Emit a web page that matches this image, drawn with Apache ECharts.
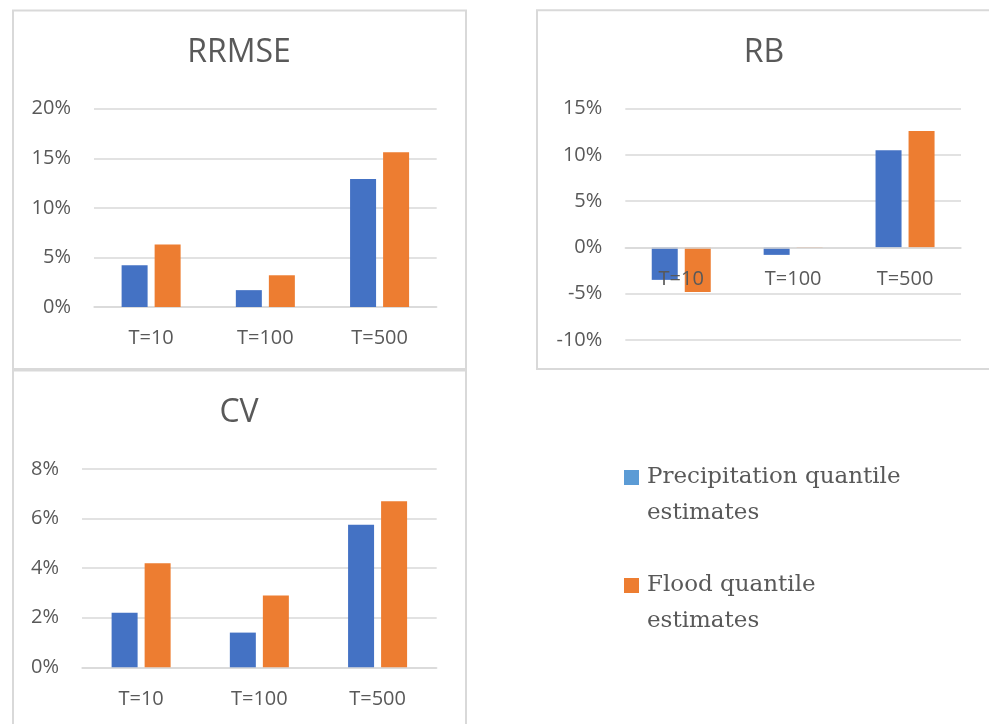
<!DOCTYPE html>
<html>
<head>
<meta charset="utf-8">
<script src="https://cdn.jsdelivr.net/npm/echarts@6/dist/echarts.min.js"></script>
<style>
html,body{margin:0;padding:0;background:#fff;}
#chart{width:989px;height:724px;}
</style>
</head>
<body>
<div id="chart"></div>
<script>
// ---- data (values in percent) ----
var categories = ['T=10', 'T=100', 'T=500'];
var seriesNames = ['Precipitation quantile estimates', 'Flood quantile estimates'];
var panelTitles = ['RRMSE', 'RB', 'CV'];

var rrmsePrecip = [4.2, 1.7, 12.9];
var rrmseFlood  = [6.3, 3.2, 15.6];

var rbPrecip = [-3.5, -0.8, 10.5];
var rbFlood  = [-4.8, -0.05, 12.6];

var cvPrecip = [2.2, 1.4, 5.75];
var cvFlood  = [4.2, 2.9, 6.7];

var rrmseTicks = {min: 0, max: 20, interval: 5};
var rbTicks = {min: -10, max: 15, interval: 5};
var cvTicks = {min: 0, max: 8, interval: 2};

// ---- style ----
var txt = '#595959';
var gridCol = '#d9d9d9';
var blue = '#4472C4', orange = '#ED7D31', legendBlue = '#5B9BD5';
var font = 'Open Sans';

var grids = [
  {left: 94, top: 108.7, width: 342.7, height: 198.3},
  {left: 625.3, top: 108.7, width: 335.7, height: 231.3},
  {left: 82, top: 469, width: 354.7, height: 198.3}
];
var tickSets = [rrmseTicks, rbTicks, cvTicks];

var chart = echarts.init(document.getElementById('chart'), null, {renderer: 'canvas'});

// place the category axis on the zero line of its value axis
function zeroOffset(idx) {
  var t = tickSets[idx];
  return -grids[idx].height * (0 - t.min) / (t.max - t.min);
}
function xAx(idx, z) {
  return {
    type: 'category', gridIndex: idx, data: categories, z: z || 0,
    offset: zeroOffset(idx),
    axisLine: {show: true, onZero: false, lineStyle: {color: gridCol, width: 1.5}},
    axisTick: {show: false},
    axisLabel: {color: txt, fontSize: 20, fontFamily: font, margin: 21.5}
  };
}
function yAx(idx) {
  var t = tickSets[idx];
  return {
    type: 'value', gridIndex: idx, min: t.min, max: t.max, interval: t.interval,
    axisLine: {show: false}, axisTick: {show: false},
    splitLine: {lineStyle: {color: gridCol, width: 1.5}},
    axisLabel: {color: txt, fontSize: 20, fontFamily: font, margin: 23, formatter: '{value}%'}
  };
}
function bar(name, idx, data, color) {
  return {
    name: name, type: 'bar', xAxisIndex: idx, yAxisIndex: idx, data: data,
    barWidth: 26, barGap: '27%',
    itemStyle: {color: color}
  };
}
function ttl(text, x, y) {
  return {
    text: text, left: x, top: y, textAlign: 'center', padding: 0,
    textStyle: {color: txt, fontSize: 32, fontWeight: 'normal', fontFamily: font}
  };
}

var option = {
  backgroundColor: '#fff',
  animation: false,
  title: [ttl(panelTitles[0], 239, 37), ttl(panelTitles[1], 764, 37), ttl(panelTitles[2], 239, 397)],
  grid: grids,
  xAxis: [xAx(0), xAx(1, 10), xAx(2)],
  yAxis: [yAx(0), yAx(1), yAx(2)],
  legend: {
    orient: 'vertical', left: 624, top: 423.5, padding: 0, itemGap: 0,
    itemWidth: 15, itemHeight: 15, icon: 'rect', selectedMode: false,
    data: [
      {name: seriesNames[0], itemStyle: {color: legendBlue}},
      {name: seriesNames[1], itemStyle: {color: orange}}
    ],
    formatter: function (n) { return '\n' + n.replace(/ estimates$/, '\nestimates'); },
    textStyle: {color: txt, fontSize: 23, fontFamily: 'DejaVu Serif', lineHeight: 36, padding: [0, 0, 0, 3]}
  },
  graphic: [
    {type: 'rect', shape: {x: 13, y: 10.5, width: 453, height: 358.5}, style: {fill: 'none', stroke: gridCol, lineWidth: 2}, silent: true},
    {type: 'rect', shape: {x: 537, y: 10.3, width: 470, height: 358.7}, style: {fill: 'none', stroke: gridCol, lineWidth: 2}, silent: true},
    {type: 'rect', shape: {x: 13, y: 370.5, width: 453, height: 400}, style: {fill: 'none', stroke: gridCol, lineWidth: 2}, silent: true}
  ],
  series: [
    bar(seriesNames[0], 0, rrmsePrecip, blue),
    bar(seriesNames[1], 0, rrmseFlood, orange),
    bar(seriesNames[0], 1, rbPrecip, blue),
    bar(seriesNames[1], 1, rbFlood, orange),
    bar(seriesNames[0], 2, cvPrecip, blue),
    bar(seriesNames[1], 2, cvFlood, orange)
  ]
};
chart.setOption(option);
</script>
</body>
</html>
